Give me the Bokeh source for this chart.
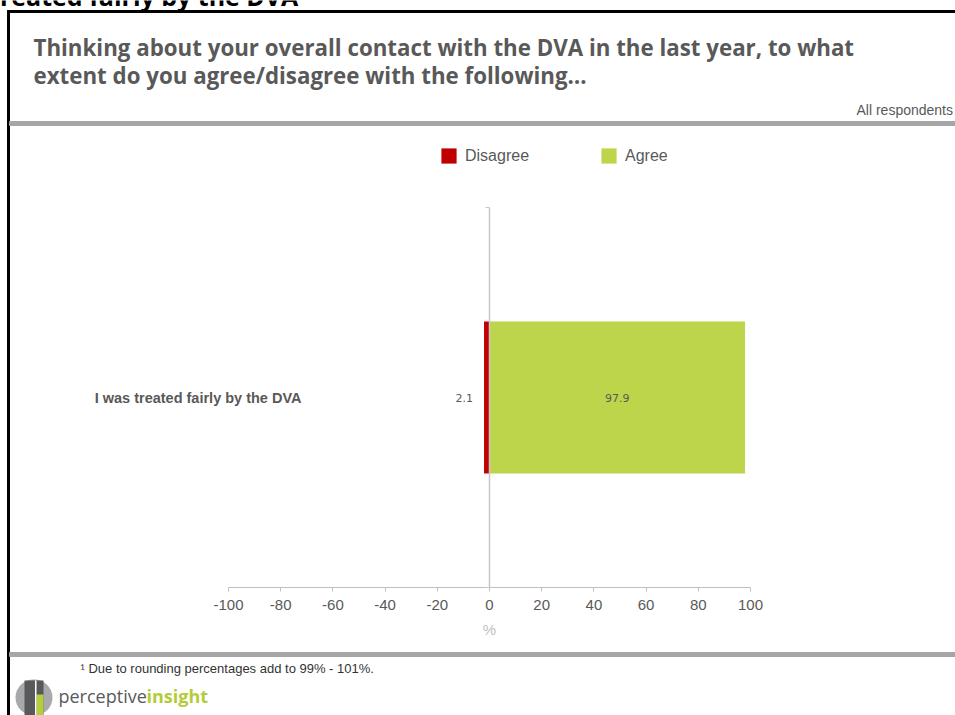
from bokeh.plotting import figure
from bokeh.models import (Range1d, FixedTicker, Legend, LegendItem, LinearAxis,
                          ColumnDataSource)
from bokeh.embed import file_html
from bokeh.resources import INLINE
from bokeh.core.properties import value

# ---------------- data ----------------
categories = ["I was treated fairly by the DVA"]
disagree = [2.1]
agree = [97.9]
series_names = ["Disagree", "Agree"]
series_colors = ["#C00000", "#BCD54A"]
x_ticks = [-100, -80, -60, -40, -20, 0, 20, 40, 60, 80, 100]
x_label = "%"

slide_title = "Treated fairly by the DVA"
title_lines = [
    "Thinking about your overall contact with the DVA in the last year, to what",
    "extent do you agree/disagree with the following\u2026",
]
base_text = "All respondents"
footnote = "\u00b9 Due to rounding percentages add to 99% - 101%."
brand = ["perceptive", "insight"]

# ---------------- layout constants (pixels) ----------------
W, H = 955, 715
AX_L, AX_R = 228, 750          # pixel span of the -100..100 axis
BAND_T, BAND_B = 207, 587      # pixel span of the category band
GREY_TXT = "#595959"

xmin, xmax = x_ticks[0], x_ticks[-1]
ppx = (AX_R - AX_L) / (xmax - xmin)
ncat = len(categories)
ppy = (BAND_B - BAND_T) / ncat
x_range = Range1d(xmin - AX_L / ppx, xmax + (W - AX_R) / ppx)
y_range = Range1d(-(H - BAND_B) / ppy, BAND_B / ppy)

p = figure(width=W, height=H, x_range=x_range, y_range=y_range,
           x_axis_type=None, y_axis_type=None, toolbar_location=None,
           output_backend="svg", min_border=0, outline_line_color=None)
p.extra_x_ranges = {"px": Range1d(0, W)}
p.extra_y_ranges = {"px": Range1d(H, 0)}
PX = dict(x_range_name="px", y_range_name="px")

# ---------------- slide decorations ----------------
p.text(x=[-15], y=[-4.5], text=[slide_title], text_font=value("Open Sans"),
       text_font_style="bold", text_font_size="25px", text_color="black",
       text_baseline="middle", **PX)
p.quad(left=[7], right=[9], top=[10], bottom=[H], color="black", **PX)
p.quad(left=[7], right=[W], top=[10], bottom=[12], color="black", **PX)
p.text(x=[33, 33], y=[47, 75], text=title_lines, text_font=value("Open Sans"),
       text_font_style="bold", text_font_size="22.3px", text_color=GREY_TXT,
       text_baseline="middle", **PX)
p.text(x=[856], y=[109], text=[base_text], text_font=value("Liberation Sans"),
       text_font_size="14px", text_color=GREY_TXT, text_baseline="middle", **PX)
p.quad(left=[9], right=[W], top=[121], bottom=[125], color="#A6A6A6", **PX)
p.quad(left=[9], right=[W], top=[652], bottom=[656], color="#A6A6A6", **PX)
p.text(x=[80], y=[668], text=[footnote], text_font=value("Liberation Sans"),
       text_font_size="13px", text_color="#333333", text_baseline="middle", **PX)
# logo mark
p.ellipse(x=[33.5], y=[697], width=[37], height=[36], fill_color="#A7A9AC",
          line_color=None, **PX)
p.quad(left=[24], right=[43], top=[680], bottom=[716], fill_color="#58595B",
       line_color=None, **PX)
p.quad(left=[36], right=[43], top=[694], bottom=[716], fill_color="#B5CC3B",
       line_color=None, **PX)
p.quad(left=[34.5], right=[36], top=[680], bottom=[716], fill_color="white",
       line_color=None, **PX)
p.text(x=[58], y=[695], text=[brand[0]], text_font=value("Open Sans"),
       text_font_size="18px", text_color="#58595B", text_baseline="middle", **PX)
p.text(x=[146], y=[695], text=[brand[1]], text_font=value("Open Sans"),
       text_font_style="bold", text_font_size="18px", text_color="#B2CC3A",
       text_baseline="middle", **PX)

# ---------------- chart ----------------
cat_pos = [ncat - i - 0.5 for i in range(ncat)]
src = ColumnDataSource(dict(
    pos=cat_pos,
    dis_left=[-v for v in disagree],
    zero=[0] * ncat,
    agree=agree,
    agree_mid=[v / 2 for v in agree],
    dis_lbl=[f"{v:.1f}" for v in disagree],
    agr_lbl=[f"{v:.1f}" for v in agree],
))

r_dis = p.hbar(y="pos", left="dis_left", right="zero", height=0.4, source=src,
               fill_color=series_colors[0], line_color=None)
r_agr = p.hbar(y="pos", left="zero", right="agree", height=0.4, source=src,
               fill_color=series_colors[1], line_color=None)

p.text(x="dis_left", y="pos", text="dis_lbl", source=src, x_offset=-11,
       text_align="right", text_baseline="middle", text_font=value("DejaVu Sans"),
       text_font_size="11px", text_color=GREY_TXT)
p.text(x="agree_mid", y="pos", text="agr_lbl", source=src,
       text_align="center", text_baseline="middle", text_font=value("DejaVu Sans"),
       text_font_size="11px", text_color=GREY_TXT)

# value axis
xa = LinearAxis(fixed_location=0, bounds=(xmin, xmax),
                ticker=FixedTicker(ticks=x_ticks),
                major_label_overrides={t: str(t) for t in x_ticks})
xa.axis_line_color = "#BFBFBF"
xa.major_tick_line_color = "#BFBFBF"
xa.major_tick_out = 4
xa.major_tick_in = 0
xa.minor_tick_line_color = None
xa.major_label_standoff = 8
xa.major_label_text_font = "Liberation Sans"
xa.major_label_text_font_size = "15px"
xa.major_label_text_color = GREY_TXT
xa.axis_label = x_label
xa.axis_label_standoff = 8
xa.axis_label_text_font = "Liberation Sans"
xa.axis_label_text_font_size = "15px"
xa.axis_label_text_font_style = "normal"
xa.axis_label_text_color = "#BFBFBF"
p.add_layout(xa, "below")

# category axis line at zero (tick marks at the band edges)
za = LinearAxis(fixed_location=0, bounds=(0, ncat),
                ticker=FixedTicker(ticks=list(range(ncat + 1))),
                major_label_overrides={i: "" for i in range(ncat + 1)})
za.axis_line_color = "#C8C8C8"
za.axis_line_width = 1.5
za.major_tick_line_color = "#C8C8C8"
za.major_tick_out = 4
za.major_tick_in = 0
za.minor_tick_line_color = None
za.major_label_text_font_size = "1px"
p.add_layout(za, "left")

# category labels
ca = LinearAxis(fixed_location=xmin, ticker=FixedTicker(ticks=cat_pos),
                major_label_overrides=dict(zip(cat_pos, categories)))
ca.axis_line_color = None
ca.major_tick_line_color = None
ca.minor_tick_line_color = None
ca.major_tick_out = 0
ca.major_tick_in = 0
ca.major_label_standoff = -73
ca.major_label_text_font = "Liberation Sans"
ca.major_label_text_font_style = "bold"
ca.major_label_text_font_size = "14.5px"
ca.major_label_text_color = GREY_TXT
p.add_layout(ca, "left")

legend = Legend(
    items=[LegendItem(label=series_names[0], renderers=[r_dis]),
           LegendItem(label=series_names[1], renderers=[r_agr])],
    orientation="horizontal", location=(439, 550),
    glyph_width=19, glyph_height=19, label_standoff=7, spacing=70,
    padding=0, margin=0, border_line_color=None, background_fill_alpha=0,
    label_text_font="Liberation Sans", label_text_font_size="16px",
    label_text_color=GREY_TXT, label_height=15,
)
p.add_layout(legend)

open("out.html", "w").write(file_html(p, INLINE))
